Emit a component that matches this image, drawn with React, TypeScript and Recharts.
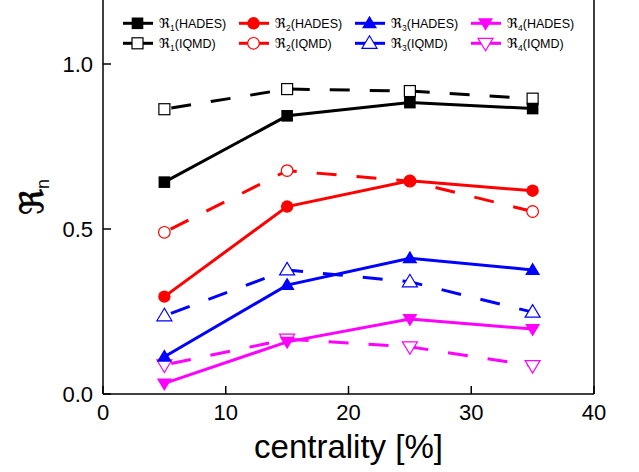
import React from 'react';
import { LineChart, Line, XAxis, YAxis, ReferenceLine, Legend } from 'recharts';

// ---- data ----
const centrality = [5, 15, 25, 35];
const r1Hades = [0.642, 0.843, 0.883, 0.865];
const r1Iqmd = [0.863, 0.924, 0.918, 0.895];
const r2Hades = [0.295, 0.568, 0.646, 0.616];
const r2Iqmd = [0.49, 0.677, 0.645, 0.553];
const r3Hades = [0.113, 0.33, 0.411, 0.376];
const r3Iqmd = [0.237, 0.376, 0.34, 0.248];
const r4Hades = [0.032, 0.158, 0.227, 0.197];
const r4Iqmd = [0.088, 0.166, 0.143, 0.086];
const xTicks = [0, 10, 20, 30, 40];
const yTicks = [0, 0.5, 1.0];

const data = centrality.map((c, i) => ({
  c,
  r1h: r1Hades[i], r1i: r1Iqmd[i],
  r2h: r2Hades[i], r2i: r2Iqmd[i],
  r3h: r3Hades[i], r3i: r3Iqmd[i],
  r4h: r4Hades[i], r4i: r4Iqmd[i],
}));

type Shape = 'square' | 'circle' | 'up' | 'down';
type Series = { key: string; n: number; src: string; color: string; shape: Shape; filled: boolean };

const hadesSeries: Series[] = [
  { key: 'r1h', n: 1, src: 'HADES', color: '#000000', shape: 'square', filled: true },
  { key: 'r2h', n: 2, src: 'HADES', color: '#ff0000', shape: 'circle', filled: true },
  { key: 'r3h', n: 3, src: 'HADES', color: '#0000ff', shape: 'up', filled: true },
  { key: 'r4h', n: 4, src: 'HADES', color: '#ff00ff', shape: 'down', filled: true },
];
const iqmdSeries: Series[] = [
  { key: 'r1i', n: 1, src: 'IQMD', color: '#000000', shape: 'square', filled: false },
  { key: 'r2i', n: 2, src: 'IQMD', color: '#ff0000', shape: 'circle', filled: false },
  { key: 'r3i', n: 3, src: 'IQMD', color: '#0000ff', shape: 'up', filled: false },
  { key: 'r4i', n: 4, src: 'IQMD', color: '#ff00ff', shape: 'down', filled: false },
];

const FONT = '"Liberation Sans", Arial, "DejaVu Sans", sans-serif';
const RFONT = '"DejaVu Serif", "DejaVu Sans", serif';

function Marker({ cx, cy, s }: { cx: number; cy: number; s: Series }) {
  const fill = s.filled ? s.color : '#ffffff';
  const sw = s.filled ? 0 : 1.2;
  if (s.shape === 'square') {
    const h = s.filled ? 5.8 : 5.5;
    return <rect x={cx - h} y={cy - h} width={2 * h} height={2 * h} fill={fill} stroke={s.color} strokeWidth={sw} />;
  }
  if (s.shape === 'circle') {
    return <circle cx={cx} cy={cy} r={s.filled ? 6.2 : 5.8} fill={fill} stroke={s.color} strokeWidth={sw} />;
  }
  if (s.shape === 'up') {
    const pts = `${cx},${cy - 7.5} ${cx - 7.5},${cy + 5} ${cx + 7.5},${cy + 5}`;
    return <polygon points={pts} fill={fill} stroke={s.color} strokeWidth={sw} />;
  }
  const pts = `${cx},${cy + 7.5} ${cx - 7.5},${cy - 5} ${cx + 7.5},${cy - 5}`;
  return <polygon points={pts} fill={fill} stroke={s.color} strokeWidth={sw} />;
}

const makeDot = (s: Series) => (props: any) => (
  <Marker key={`${s.key}-${props.index}`} cx={props.cx} cy={props.cy} s={s} />
);

const YTick = (props: any) => {
  const { x, y, payload } = props;
  return (
    <g>
      <line x1={x + 10} x2={x + 18} y1={y} y2={y} stroke="#000" strokeWidth={1.5} />
      <text x={x} y={y} dy="0.355em" textAnchor="end" fontSize={22} fontFamily={FONT} fill="#000">
        {Number(payload.value).toFixed(1)}
      </text>
    </g>
  );
};

const XTick = (props: any) => {
  const { x, y, payload } = props;
  return (
    <g>
      <line x1={x} x2={x} y1={y - 10} y2={y - 18} stroke="#000" strokeWidth={1.5} />
      <text x={x} y={y} dy="0.71em" textAnchor="middle" fontSize={22} fontFamily={FONT} fill="#000">
        {payload.value}
      </text>
    </g>
  );
};

const YLabel = () => (
  <text
    x={43}
    y={199}
    transform="rotate(-90, 43, 199)"
    textAnchor="middle"
    fontSize={32}
    fontFamily={RFONT}
    fill="#000"
    stroke="#000"
    strokeWidth={0.6}
  >
    ℜ
    <tspan dy={6} fontSize={18} fontFamily={FONT} strokeWidth={0}>n</tspan>
  </text>
);

const XLabel = () => (
  <text x={348.5} y={460} textAnchor="middle" fontSize={33} fontFamily={FONT} fill="#000">
    centrality [%]
  </text>
);

const LegendContent = () => {
  const rows = [hadesSeries, iqmdSeries];
  return (
    <svg width={639} height={60} style={{ display: 'block' }}>
      {rows.map((row, ri) =>
        row.map((s, ci) => {
          const x0 = 123 + ci * 116;
          const cy = 25.3 + ri * 20;
          return (
            <g key={`${ri}-${ci}`}>
              <line x1={x0} x2={x0 + 30} y1={cy} y2={cy} stroke={s.color} strokeWidth={3} />
              <Marker cx={x0 + 14.5} cy={cy} s={s} />
              <text x={x0 + 36} y={cy + 4.3} fontSize={12.5} fontFamily={FONT} fill="#000">
                <tspan fontFamily={RFONT} fontSize={13.5}>ℜ</tspan>
                <tspan fontSize={8.5} dy={3}>{s.n}</tspan>
                <tspan dy={-3}>({s.src})</tspan>
              </text>
            </g>
          );
        })
      )}
    </svg>
  );
};

export default function App() {
  return (
    <div style={{ position: 'absolute', left: 0, top: -2, width: 639, height: 474, background: '#fff' }}>
      <LineChart width={639} height={474} data={data} margin={{ top: 0, right: 45, bottom: 0, left: 0 }}>
        <XAxis
          dataKey="c"
          type="number"
          domain={[0, 40]}
          ticks={xTicks}
          height={78}
          tickSize={0}
          tickMargin={10}
          tick={<XTick />}
          tickLine={false}
          axisLine={{ stroke: '#000', strokeWidth: 1.5 }}
          label={<XLabel />}
        />
        <YAxis
          type="number"
          domain={[0, 1.2]}
          ticks={yTicks}
          width={103}
          tickSize={0}
          tickMargin={10}
          tick={<YTick />}
          tickLine={false}
          axisLine={{ stroke: '#000', strokeWidth: 1.5 }}
          label={<YLabel />}
        />
        <ReferenceLine x={40} stroke="#000" strokeWidth={1.5} />
        {iqmdSeries.map((s) => (
          <Line
            key={s.key}
            dataKey={s.key}
            type="linear"
            stroke={s.color}
            strokeWidth={3}
            strokeDasharray="20 20"
            strokeDashoffset={33}
            dot={makeDot(s)}
            activeDot={false}
            isAnimationActive={false}
          />
        ))}
        {hadesSeries.map((s) => (
          <Line
            key={s.key}
            dataKey={s.key}
            type="linear"
            stroke={s.color}
            strokeWidth={3}
            dot={makeDot(s)}
            activeDot={false}
            isAnimationActive={false}
          />
        ))}
        <Legend
          verticalAlign="middle"
          align="center"
          layout="horizontal"
          wrapperStyle={{ position: 'absolute', left: 0, top: 0, width: 639, height: 60 }}
          content={<LegendContent />}
        />
      </LineChart>
    </div>
  );
}
